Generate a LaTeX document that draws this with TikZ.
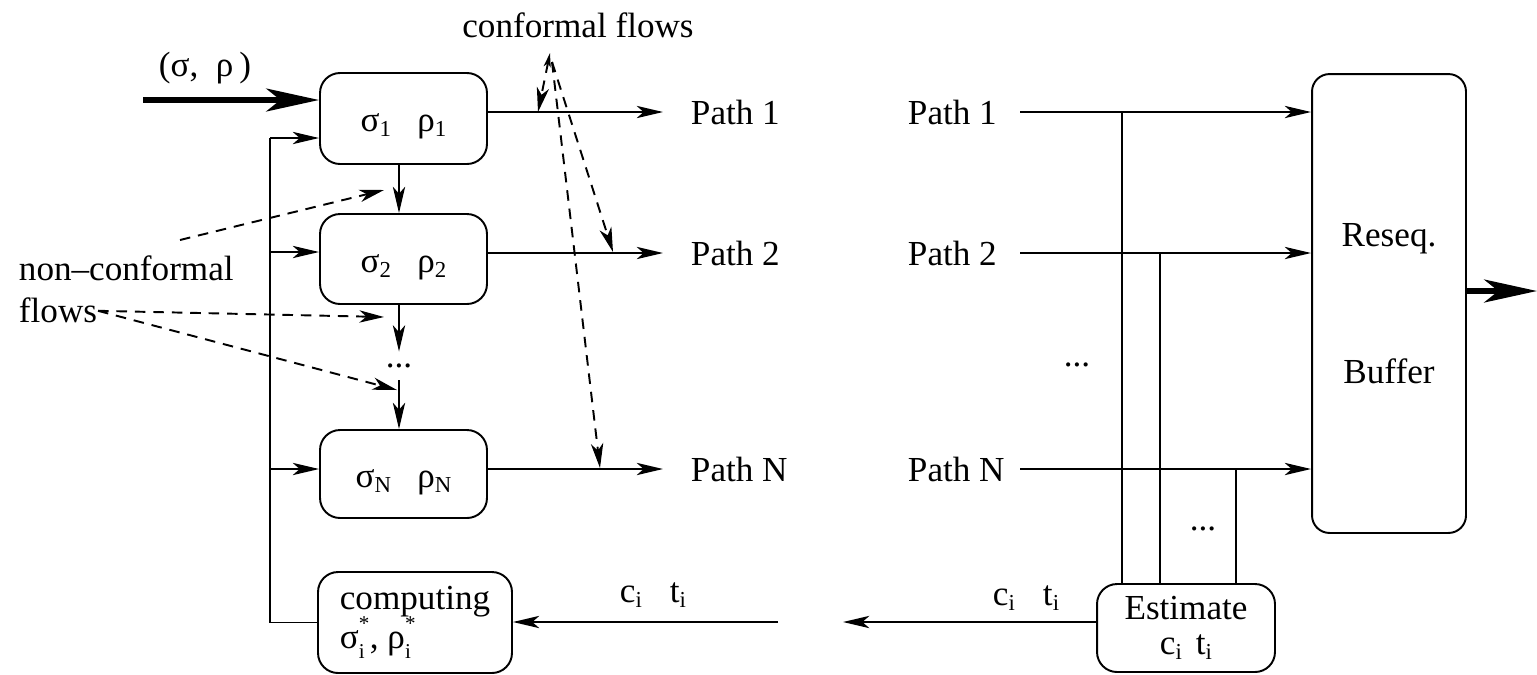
\documentclass[tikz,border=0pt]{standalone}
\usepackage{fontspec}
\setmainfont{Liberation Serif}
\usetikzlibrary{arrows.meta}
\newcommand\lowsub[1]{\raisebox{-3pt}{\fontsize{13}{13}\selectfont #1}}
\newcommand\supsub[2]{\makebox[0pt][l]{\raisebox{10pt}{\fontsize{12}{12}\selectfont #1}}\raisebox{-6pt}{\fontsize{12}{12}\selectfont #2}\hspace{3pt}}
\begin{document}
\begin{tikzpicture}[x=0.02cm,y=-0.02cm,
  font=\rmfamily\fontsize{20}{24}\selectfont,
  line width=1.1pt,
  box/.style={draw, rounded corners=0.4cm, inner sep=0pt},
  lbl/.style={inner sep=0pt},
  arr/.style={-{Stealth[length=15pt,width=7pt,inset=4pt]}},
  bigarr/.style={line width=3.4pt,-{Stealth[length=30pt,width=13pt,inset=8pt]}},
  darr/.style={dash pattern=on 6pt off 4.5pt,-{Stealth[length=14pt,width=7pt,inset=4pt]}},
  ddarr/.style={dash pattern=on 6pt off 4.5pt,{Stealth[length=8pt,width=4pt,inset=2pt]}-{Stealth[length=14pt,width=7pt,inset=4pt]}}
]
\useasboundingbox (0,0) rectangle (1537,674);

% left boxes
\node[box, minimum width=3.34cm, minimum height=1.82cm, text height=15pt, text depth=0pt] (b1) at (403.5,118.5) {σ\lowsub{1}\hspace{15pt}ρ\lowsub{1}};
\node[box, minimum width=3.34cm, minimum height=1.80cm, text height=15pt, text depth=0pt] (b2) at (403.5,259) {σ\lowsub{2}\hspace{15pt}ρ\lowsub{2}};
\node[box, minimum width=3.34cm, minimum height=1.76cm, text height=15pt, text depth=0pt] (bN) at (403.5,474) {σ\lowsub{N}\hspace{15pt}ρ\lowsub{N}};
\node[lbl, minimum height=0.54cm] (dots) at (399,366) {...};

% computing box
\node[box, minimum width=3.88cm, minimum height=2.02cm, align=left] (comp) at (415,622.5) {computing\\[-2pt]σ\supsub{*}{i}, ρ\supsub{*}{i}};

% input
\node[lbl] (sr) at (205,68) {(σ,\ \ ρ\,)};
\coordinate (in) at (143,100);
\draw[bigarr] (in) -- (in -| b1.west);

% vertical chain
\draw[arr] (b1.south -| dots) -- (b2.north -| dots);
\draw[arr] (b2.south -| dots) -- (dots.north);
\draw[arr] (dots.south) -- (bN.north -| dots);

% feedback
\coordinate (f1) at (270,138);
\coordinate (f2) at (270,252);
\coordinate (fN) at (270,469);
\draw (comp.west) -| (f1);
\draw[arr] (f1) -- (f1 -| b1.west);
\draw[arr] (f2) -- (f2 -| b2.west);
\draw[arr] (fN) -- (fN -| bN.west);

% left path outputs
\node[lbl, anchor=west] (pl1) at (690,112) {Path 1};
\node[lbl, anchor=west] (pl2) at (690,253) {Path 2};
\node[lbl, anchor=west] (plN) at (690,469) {Path N};
\coordinate (t1) at (663,112);
\coordinate (t2) at (663,253);
\coordinate (tN) at (663,469);
\draw[arr] (b1.east |- t1) -- (t1);
\draw[arr] (b2.east |- t2) -- (t2);
\draw[arr] (bN.east |- tN) -- (tN);

% conformal flows
\node[lbl] (cf) at (578,25) {conformal flows};
\coordinate (ctop) at (550,53);
\coordinate (cst) at (552,62);
\coordinate (c1) at (538,112);
\coordinate (c2) at (613,252);
\coordinate (c3) at (600,468);
\draw[ddarr] (ctop) -- (c1);
\draw[darr] (cst) -- (c2);
\draw[darr] (cst) -- (c3);

% non-conformal flows
\node[lbl, anchor=base west] (nc) at (18,280) {non–conformal};
\node[lbl, anchor=base west] (fl) at (18,322) {flows};
\coordinate (n0) at (180,240);
\draw[darr] (n0) -- (384,190);
\draw[darr] (fl.east) ++(0,1) coordinate (n1) -- (384,317);
\draw[darr] (n1) -- (397,390);

% bottom arrow to computing
\node[lbl] (lc) at (653,595) {c\lowsub{i}\hspace{16pt}t\lowsub{i}};
\coordinate (ca) at (778,622);
\draw[arr] (ca) -- (comp.east |- ca);

% right side
\node[box, rounded corners=0.35cm, minimum width=3.08cm, minimum height=9.18cm, align=center] (rb) at (1389,303.5) {Reseq.\\[54pt]Buffer};
\node[box, minimum width=3.56cm, minimum height=1.76cm, align=center] (est) at (1186,628) {Estimate\\[-4pt]c\lowsub{i}\hspace{8pt}t\lowsub{i}};

\node[lbl, anchor=west] (pr1) at (907,112) {Path 1};
\node[lbl, anchor=west] (pr2) at (907,253) {Path 2};
\node[lbl, anchor=west] (prN) at (907,469) {Path N};
\coordinate (s1) at (1020,112);
\coordinate (s2) at (1020,253);
\coordinate (sN) at (1020,469);
\draw[arr] (s1) -- (s1 -| rb.west);
\draw[arr] (s2) -- (s2 -| rb.west);
\draw[arr] (sN) -- (sN -| rb.west);

\coordinate (v1) at (1122,112);
\coordinate (v2) at (1160,253);
\coordinate (vN) at (1236,469);
\draw (v1) -- (v1 |- est.north);
\draw (v2) -- (v2 |- est.north);
\draw (vN) -- (vN |- est.north);

\node[lbl] (rdots) at (1077,365) {...};
\node[lbl] (edots) at (1203,529) {...};

\node[lbl] (lc2) at (1026,598) {c\lowsub{i}\hspace{16pt}t\lowsub{i}};
\coordinate (ea) at (843,622);
\draw[arr] (est.west |- ea) -- (ea);

\coordinate (out) at (1537,291);
\draw[bigarr] (rb.east |- out) -- (out);
\end{tikzpicture}
\end{document}
